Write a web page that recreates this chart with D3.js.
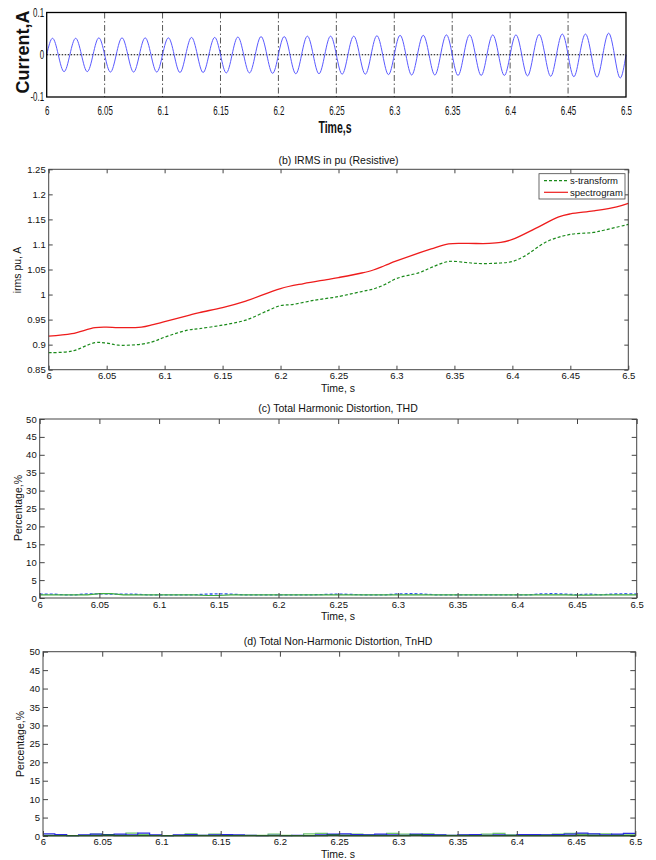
<!DOCTYPE html>
<html><head><meta charset="utf-8">
<script src="https://d3js.org/d3.v7.min.js"></script>
<style>
body{margin:0;background:#fff;}
svg{display:block;font-family:"Liberation Sans",Arial,sans-serif;}
</style></head>
<body>
<script>
// ---------------- DATA ----------------
const xTicks = [6, 6.05, 6.1, 6.15, 6.2, 6.25, 6.3, 6.35, 6.4, 6.45, 6.5];
const xTickLabels = ["6","6.05","6.1","6.15","6.2","6.25","6.3","6.35","6.4","6.45","6.5"];

// (a) current waveform: zero crossings and half-cycle extrema
const currentTime = [
 6.000,6.005,6.010,6.015,6.020,6.025,6.030,6.035,6.040,6.045,6.050,6.055,6.060,6.065,6.070,6.075,6.080,6.085,6.090,6.095,
 6.100,6.105,6.110,6.115,6.120,6.125,6.130,6.135,6.140,6.145,6.150,6.155,6.160,6.165,6.170,6.175,6.180,6.185,6.190,6.195,
 6.200,6.205,6.210,6.215,6.220,6.225,6.230,6.235,6.240,6.245,6.250,6.255,6.260,6.265,6.270,6.275,6.280,6.285,6.290,6.295,
 6.300,6.305,6.310,6.315,6.320,6.325,6.330,6.335,6.340,6.345,6.350,6.355,6.360,6.365,6.370,6.375,6.380,6.385,6.390,6.395,
 6.400,6.405,6.410,6.415,6.420,6.425,6.430,6.435,6.440,6.445,6.450,6.455,6.460,6.465,6.470,6.475,6.480,6.485,6.490,6.495,6.500];
const currentValue = [
 0,0.039,0,-0.040,0,0.039,0,-0.040,0,0.040,0,-0.041,0,0.040,0,-0.041,0,0.040,0,-0.041,
 0,0.040,0,-0.042,0,0.041,0,-0.042,0,0.041,0,-0.043,0,0.042,0,-0.043,0,0.043,0,-0.044,
 0,0.043,0,-0.045,0,0.044,0,-0.045,0,0.044,0,-0.046,0,0.044,0,-0.046,0,0.045,0,-0.047,
 0,0.046,0,-0.048,0,0.046,0,-0.048,0,0.047,0,-0.049,0,0.047,0,-0.049,0,0.047,0,-0.049,
 0,0.047,0,-0.050,0,0.048,0,-0.051,0,0.049,0,-0.052,0,0.049,0,-0.053,0,0.051,0,-0.055,0];
const currentYTicks = [-0.1, 0, 0.1];
const currentYLabels = ["-0.1","0","0.1"];

// (b) IRMS in pu
const sTransTime  = [6.00,6.02,6.04,6.05,6.06,6.08,6.09,6.10,6.12,6.13,6.15,6.17,6.19,6.20,6.21,6.23,6.245,6.25,6.27,6.28,6.29,6.30,6.32,6.33,6.345,6.36,6.37,6.39,6.40,6.41,6.43,6.45,6.47,6.48,6.50];
const sTransValue = [0.884,0.887,0.904,0.903,0.899,0.901,0.906,0.915,0.929,0.932,0.939,0.949,0.969,0.978,0.980,0.989,0.994,0.996,1.006,1.011,1.020,1.032,1.044,1.054,1.066,1.064,1.062,1.063,1.066,1.076,1.106,1.120,1.124,1.129,1.140];
const spectroTime  = [6.00,6.02,6.04,6.05,6.06,6.08,6.09,6.10,6.12,6.13,6.15,6.17,6.20,6.22,6.24,6.25,6.27,6.28,6.29,6.30,6.33,6.345,6.36,6.38,6.39,6.40,6.42,6.44,6.45,6.47,6.49,6.50];
const spectroValue = [0.917,0.922,0.934,0.935,0.934,0.935,0.940,0.946,0.958,0.964,0.974,0.987,1.012,1.022,1.030,1.034,1.043,1.049,1.058,1.067,1.091,1.101,1.102,1.102,1.104,1.110,1.132,1.155,1.161,1.167,1.175,1.182];
const irmsYTicks = [0.85,0.9,0.95,1,1.05,1.1,1.15,1.2,1.25];
const irmsYLabels = ["0.85","0.9","0.95","1","1.05","1.1","1.15","1.2","1.25"];
const legendLabels = ["s-transform","spectrogram"];

// (c),(d) distortion, sampled every 0.01 s
const distTime = [6.00,6.01,6.02,6.03,6.04,6.05,6.06,6.07,6.08,6.09,6.10,6.11,6.12,6.13,6.14,6.15,6.16,6.17,6.18,6.19,6.20,6.21,6.22,6.23,6.24,6.25,6.26,6.27,6.28,6.29,6.30,6.31,6.32,6.33,6.34,6.35,6.36,6.37,6.38,6.39,6.40,6.41,6.42,6.43,6.44,6.45,6.46,6.47,6.48,6.49,6.50];
const thdBlue  = [1.1,1.1,0.9,0.9,1.15,1.15,1.1,1.1,1.05,0.9,0.9,0.9,0.9,0.9,1.1,1.15,1.1,0.9,0.9,0.9,0.9,0.9,0.9,0.9,1.0,1.1,1.0,0.9,0.9,0.9,1.15,1.2,1.15,0.9,0.9,0.9,0.9,0.9,0.9,0.9,0.9,0.9,1.15,1.2,1.1,0.9,1.1,0.9,1.1,1.2,1.1];
const thdGreen = [0.9,0.9,0.9,0.9,0.9,1.2,1.2,0.9,0.9,0.9,0.9,0.9,0.9,0.9,0.7,0.7,0.9,0.9,0.9,0.9,0.9,0.9,0.9,0.9,0.9,0.9,0.9,0.9,0.9,0.9,0.9,0.9,0.9,0.9,0.9,0.9,0.9,0.9,0.9,0.9,0.9,0.9,0.9,0.9,0.9,0.8,0.8,0.9,0.9,0.9,0.9];
const tnhdBlue  = [0.6,0.4,0.1,0.3,0.5,0.4,0.5,0.3,0.8,0.3,0.1,0.3,0.4,0.2,0.3,0.4,0.3,0.2,0.1,0.2,0.1,0.2,0.1,0.3,0.5,0.6,0.4,0.3,0.5,0.3,0.2,0.5,0.4,0.3,0.2,0.3,0.4,0.2,0.3,0.2,0.4,0.4,0.3,0.4,0.5,0.8,0.6,0.3,0.5,0.7,0.6];
const tnhdGreen = [0.2,0.2,0.1,0.2,0.5,0.3,0.3,0.8,0.4,0.2,0.1,0.2,0.6,0.2,0.5,0.4,0.2,0.2,0.2,0.5,0.2,0.1,0.6,0.7,0.4,0.3,0.5,0.4,0.4,0.7,0.5,0.4,0.6,0.3,0.2,0.3,0.2,0.5,0.7,0.3,0.2,0.3,0.3,0.5,0.7,0.6,0.5,0.6,0.4,0.5,0.6];
const tnhdDark  = [0.1,0.1,0.1,0.1,0.1,0.2,0.1,0.1,0.1,0.1,0.1,0.1,0.1,0.1,0.1,0.1,0.1,0.1,0.1,0.1,0.1,0.1,0.1,0.1,0.2,0.1,0.1,0.1,0.1,0.1,0.1,0.2,0.1,0.1,0.1,0.1,0.1,0.1,0.1,0.1,0.1,0.1,0.1,0.1,0.1,0.2,0.1,0.1,0.1,0.1,0.1];
const pctYTicks = [0,5,10,15,20,25,30,35,40,45,50];
const pctYLabels = ["0","5","10","15","20","25","30","35","40","45","50"];

const titles = ["(b) IRMS in pu (Resistive)","(c) Total Harmonic Distortion, THD","(d) Total Non-Harmonic Distortion, TnHD"];

// ---------------- DRAW ----------------
const svg = d3.select("body").append("svg").attr("width",656).attr("height",860);

function zip(xs, ys){ return xs.map((x,i)=>[x,ys[i]]); }

function boxAxes(g, x, y, box, o){
  const col = o.axisColor || "#333";
  const tl = o.tickLen;
  const bx = d3.axisBottom(x).tickValues(xTicks).tickFormat((d,i)=>xTickLabels[i]).tickSizeInner(-tl).tickSizeOuter(0).tickPadding(o.xPad);
  const tx = d3.axisTop(x).tickValues(xTicks).tickFormat("").tickSizeInner(-tl).tickSizeOuter(0);
  const ly = d3.axisLeft(y).tickValues(o.yTicks).tickFormat((d,i)=>o.yLabels[i]).tickSizeInner(-tl).tickSizeOuter(0).tickPadding(o.yPad);
  const ry = d3.axisRight(y).tickValues(o.yTicks).tickFormat("").tickSizeInner(-tl).tickSizeOuter(0);
  const gb = g.append("g").attr("transform",`translate(0,${box.b})`).call(bx);
  const gt = g.append("g").attr("transform",`translate(0,${box.t})`).call(tx);
  const gl = g.append("g").attr("transform",`translate(${box.l},0)`).call(ly);
  const gr = g.append("g").attr("transform",`translate(${box.r},0)`).call(ry);
  [gb,gt,gl,gr].forEach(a=>{
    a.select(".domain").remove();
    a.selectAll("line").attr("stroke",col);
    a.selectAll("text").attr("fill","#111").style("font-size",o.fs+"px").style("font-family",o.ff||null);
  });
  g.append("rect").attr("x",box.l).attr("y",box.t).attr("width",box.r-box.l).attr("height",box.b-box.t)
    .attr("fill","none").attr("stroke",col).attr("stroke-width",o.sw||1);
  return {gb,gl};
}

// ---- Panel (a) ----
{
  const box = {l:46.7, r:626, t:12.5, b:97};
  const g = svg.append("g");
  const x = d3.scaleLinear().domain([6,6.5]).range([box.l,box.r]);
  const y = d3.scaleLinear().domain([-0.1,0.1]).range([box.b,box.t]);
  g.selectAll("line.grid").data(xTicks.slice(1,-1)).join("line").attr("class","grid")
    .attr("x1",d=>x(d)).attr("x2",d=>x(d)).attr("y1",box.t).attr("y2",box.b)
    .attr("stroke","#444").attr("stroke-width",0.9).attr("stroke-dasharray","6,2.5,1.5,2.5");
  g.append("line").attr("x1",box.l).attr("x2",box.r).attr("y1",y(0)).attr("y2",y(0))
    .attr("stroke","#000").attr("stroke-width",1).attr("stroke-dasharray","1.5,1.5");
  g.append("path").datum(zip(currentTime,currentValue))
    .attr("d",d3.line().x(d=>x(d[0])).y(d=>y(d[1])).curve(d3.curveNatural))
    .attr("fill","none").attr("stroke","#5a5aff").attr("stroke-width",1);
  const bx = d3.axisBottom(x).tickValues(xTicks).tickFormat((d,i)=>xTickLabels[i]).tickSize(0).tickPadding(9);
  const ly = d3.axisLeft(y).tickValues(currentYTicks).tickFormat((d,i)=>currentYLabels[i]).tickSize(0).tickPadding(4);
  const gb = g.append("g").attr("transform",`translate(0,${box.b})`).call(bx);
  const gl = g.append("g").attr("transform",`translate(${box.l},0)`).call(ly);
  [gb,gl].forEach(a=>{ a.select(".domain").remove();
    a.selectAll("text").attr("fill","#111").style("font-size","12px").style("font-family","'Liberation Sans',Arial,sans-serif"); });
  gb.selectAll("text").attr("transform","scale(0.66,1)");
  gl.selectAll("text").attr("transform","scale(0.66,1)");
  g.append("rect").attr("x",box.l).attr("y",box.t).attr("width",box.r-box.l).attr("height",box.b-box.t)
    .attr("fill","none").attr("stroke","#000").attr("stroke-width",1.3);
  g.append("text").attr("transform",`translate(28.5,52) rotate(-90)`).attr("text-anchor","middle")
    .style("font-size","18px").style("font-weight","bold").attr("fill","#111").text("Current,A");
  g.append("text").attr("transform",`translate(335,133) scale(0.62,1)`).attr("text-anchor","middle")
    .style("font-size","17px").style("font-weight","bold").attr("fill","#111").text("Time,s");
}

// ---- Panel (b) ----
{
  const box = {l:48.7, r:628.3, t:169.3, b:369.7};
  const g = svg.append("g");
  const x = d3.scaleLinear().domain([6,6.5]).range([box.l,box.r]);
  const y = d3.scaleLinear().domain([0.85,1.25]).range([box.b,box.t]);
  const line = d3.line().x(d=>x(d[0])).y(d=>y(d[1])).curve(d3.curveCatmullRom);
  g.append("path").datum(zip(sTransTime,sTransValue)).attr("d",line)
    .attr("fill","none").attr("stroke","#1a8a1a").attr("stroke-width",1.2).attr("stroke-dasharray","3,2");
  g.append("path").datum(zip(spectroTime,spectroValue)).attr("d",line)
    .attr("fill","none").attr("stroke","#ee1c1c").attr("stroke-width",1.3);
  boxAxes(g,x,y,box,{tickLen:4,xPad:3,yPad:3,yTicks:irmsYTicks,yLabels:irmsYLabels,fs:9.5,axisColor:"#444"});
  g.append("text").attr("x",(box.l+box.r)/2).attr("y",164).attr("text-anchor","middle").style("font-size","10.5px").attr("fill","#111").text(titles[0]);
  g.append("text").attr("x",338).attr("y",392).attr("text-anchor","middle").style("font-size","10.5px").attr("fill","#111").text("Time, s");
  g.append("text").attr("transform","translate(21,270) rotate(-90)").attr("text-anchor","middle").style("font-size","10.5px").attr("fill","#111").text("irms pu, A");
  const lg = g.append("g");
  lg.append("rect").attr("x",539).attr("y",173.7).attr("width",86).attr("height",25.3).attr("fill","#fff").attr("stroke","#444").attr("stroke-width",0.8);
  const styles = [{c:"#1a8a1a",d:"3,2"},{c:"#ee1c1c",d:null}];
  legendLabels.forEach((lab,i)=>{
    const yy = 180.7 + i*11.6;
    lg.append("line").attr("x1",544).attr("x2",568).attr("y1",yy).attr("y2",yy).attr("stroke",styles[i].c).attr("stroke-width",1.2).attr("stroke-dasharray",styles[i].d);
    lg.append("text").attr("x",570).attr("y",yy+3.3).style("font-size","9.5px").attr("fill","#111").text(lab);
  });
}

// ---- Panel (c) ----
{
  const box = {l:39.7, r:636.7, t:419, b:598};
  const g = svg.append("g");
  const x = d3.scaleLinear().domain([6,6.5]).range([box.l,box.r]);
  const y = d3.scaleLinear().domain([0,50]).range([box.b,box.t]);
  const line = d3.line().x(d=>x(d[0])).y(d=>y(d[1]));
  g.append("path").datum(zip(distTime,thdBlue)).attr("d",line)
    .attr("fill","none").attr("stroke","#2f4ff0").attr("stroke-width",1.3).attr("stroke-dasharray","3,2");
  g.append("path").datum(zip(distTime,thdGreen)).attr("d",line)
    .attr("fill","none").attr("stroke","#3fae3f").attr("stroke-width",1.2);
  boxAxes(g,x,y,box,{tickLen:5,xPad:3,yPad:3,yTicks:pctYTicks,yLabels:pctYLabels,fs:9.5,axisColor:"#444"});
  g.append("text").attr("x",338).attr("y",412).attr("text-anchor","middle").style("font-size","10.5px").attr("fill","#111").text(titles[1]);
  g.append("text").attr("x",338).attr("y",620).attr("text-anchor","middle").style("font-size","10.5px").attr("fill","#111").text("Time, s");
  g.append("text").attr("transform","translate(22,508) rotate(-90)").attr("text-anchor","middle").style("font-size","10.5px").attr("fill","#111").text("Percentage,%");
}

// ---- Panel (d) ----
{
  const box = {l:43, r:635.3, t:651.7, b:836};
  const g = svg.append("g");
  const x = d3.scaleLinear().domain([6,6.5]).range([box.l,box.r]);
  const y = d3.scaleLinear().domain([0,50]).range([box.b,box.t]);
  const line = d3.line().x(d=>x(d[0])).y(d=>y(d[1])).curve(d3.curveStepAfter);
  g.append("path").datum(zip(distTime,tnhdGreen)).attr("d",line)
    .attr("fill","none").attr("stroke","#6cc46c").attr("stroke-width",1.2);
  g.append("path").datum(zip(distTime,tnhdBlue)).attr("d",line)
    .attr("fill","none").attr("stroke","#2a2ae0").attr("stroke-width",1.2);
  g.append("path").datum(zip(distTime,tnhdDark)).attr("d",line)
    .attr("fill","none").attr("stroke","#0a6a0a").attr("stroke-width",1.4);
  boxAxes(g,x,y,box,{tickLen:5,xPad:2.5,yPad:3,yTicks:pctYTicks,yLabels:pctYLabels,fs:9.5,axisColor:"#444"});
  g.append("text").attr("x",338).attr("y",645).attr("text-anchor","middle").style("font-size","10.5px").attr("fill","#111").text(titles[2]);
  g.append("text").attr("x",338).attr("y",857.5).attr("text-anchor","middle").style("font-size","10.5px").attr("fill","#111").text("Time. s");
  g.append("text").attr("transform","translate(24,744) rotate(-90)").attr("text-anchor","middle").style("font-size","10.5px").attr("fill","#111").text("Percentage,%");
}
</script>
</body></html>
